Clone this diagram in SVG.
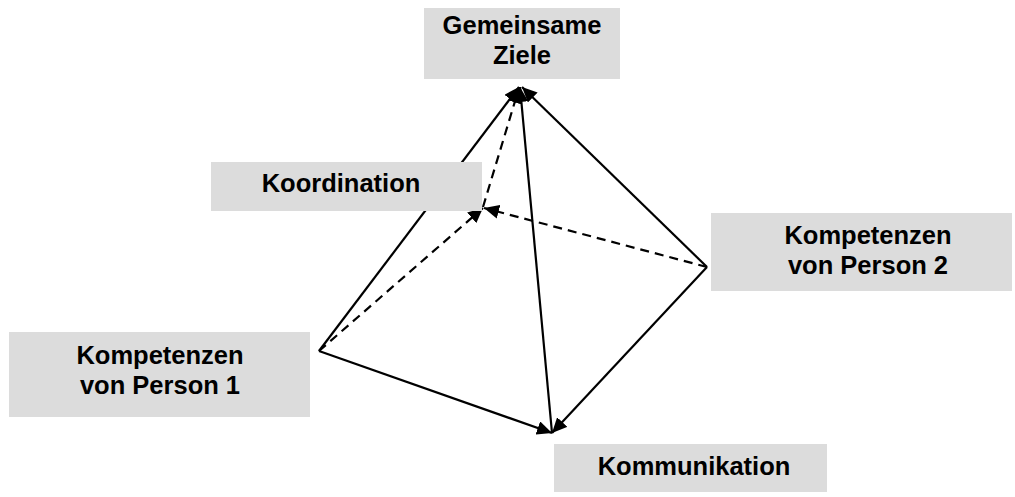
<svg xmlns="http://www.w3.org/2000/svg" width="1015" height="497" viewBox="0 0 1015 497">
<style>
.box{fill:#dcdcdc;stroke:none}
.lbl{font-family:"Liberation Sans",Arial,sans-serif;font-weight:bold;font-size:25.5px;fill:#000;text-anchor:middle}
.edge{stroke:#000;stroke-width:2.2;fill:none}
.dash{stroke-dasharray:9,6}
</style>
<defs>
<marker id="arr" markerUnits="userSpaceOnUse" markerWidth="16" markerHeight="14" refX="15" refY="7" orient="auto">
<path d="M0,0 L15,7 L0,14 z" fill="#000"/>
</marker>
</defs>
<rect width="1015" height="497" fill="#fff"/>
<g id="connectors">
<line class="edge" x1="319" y1="351" x2="519" y2="87" marker-end="url(#arr)"/>
<line class="edge" x1="707" y1="267" x2="522" y2="87" marker-end="url(#arr)"/>
<line class="edge" x1="552" y1="433" x2="520" y2="87" marker-end="url(#arr)"/>
<line class="edge dash" x1="483" y1="207" x2="519" y2="88" marker-end="url(#arr)"/>
<line class="edge" x1="319" y1="351" x2="552" y2="433" marker-end="url(#arr)"/>
<line class="edge" x1="707" y1="267" x2="552" y2="433" marker-end="url(#arr)"/>
<line class="edge dash" x1="319" y1="351" x2="483" y2="208" marker-end="url(#arr)"/>
<line class="edge dash" x1="707" y1="267" x2="484" y2="208" marker-end="url(#arr)"/>
</g>
<g id="ziele">
<rect class="box" x="424" y="8" width="196" height="71"/>
<text class="lbl" x="522" y="34">Gemeinsame</text>
<text class="lbl" x="522" y="64">Ziele</text>
</g>
<g id="koordination">
<rect class="box" x="211" y="162" width="271" height="49"/>
<text class="lbl" x="341" y="192">Koordination</text>
</g>
<g id="person2">
<rect class="box" x="711" y="213" width="301" height="78"/>
<text class="lbl" x="868" y="244">Kompetenzen</text>
<text class="lbl" x="868" y="274">von Person 2</text>
</g>
<g id="person1">
<rect class="box" x="9" y="332" width="301" height="85"/>
<text class="lbl" x="160" y="364">Kompetenzen</text>
<text class="lbl" x="160" y="394">von Person 1</text>
</g>
<g id="kommunikation">
<rect class="box" x="554" y="444" width="273" height="48"/>
<text class="lbl" x="694" y="475">Kommunikation</text>
</g>
</svg>
